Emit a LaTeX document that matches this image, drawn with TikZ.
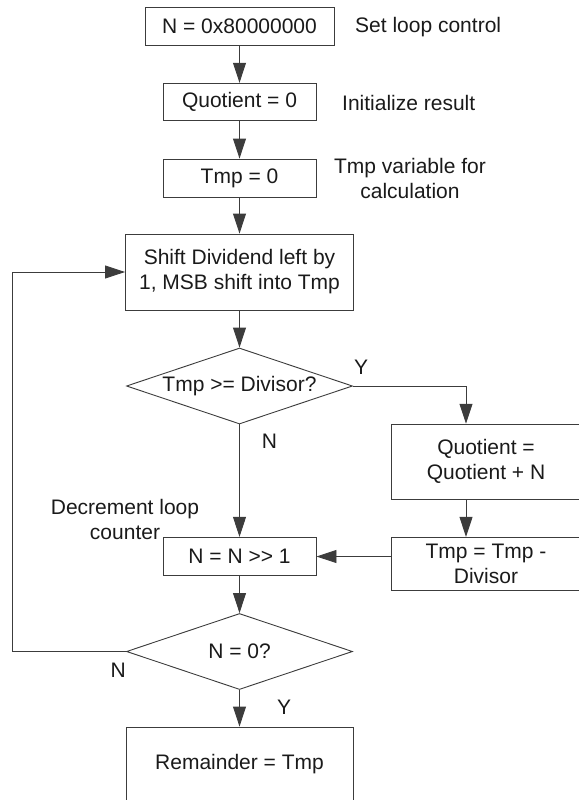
\documentclass[tikz,border=0pt]{standalone}
\usepackage{fontspec}
\setmainfont{Liberation Sans}
\usetikzlibrary{arrows.meta,shapes.geometric}
\definecolor{ln}{HTML}{3C3C3C}
\definecolor{txt}{HTML}{1A1A1A}
\begin{document}
\begin{tikzpicture}[x=1pt,y=-1pt,
  every node/.style={text=txt, font=\fontsize{21}{25}\selectfont},
  box/.style={draw=ln, line width=0.9pt, inner sep=0pt, align=center},
  dec/.style={diamond, draw=ln, line width=0.9pt, inner sep=0pt, aspect=2.97, minimum width=226pt, minimum height=76pt},
  lab/.style={inner sep=0pt, align=center},
  flow/.style={draw=ln, line width=0.9pt, -{Triangle[length=20pt,width=13pt]}},
]
\useasboundingbox (0,0) rectangle (578,800);
% main column
\node[box, minimum width=189pt, minimum height=38pt] (b1) at (239.5,26) {N = 0x80000000};
\node[box, minimum width=153pt, minimum height=37.5pt] (b2) at (239.5,102) {Quotient = 0};
\node[box, minimum width=153pt, minimum height=38pt] (b3) at (239.5,178) {Tmp = 0};
\node[box, minimum width=228pt, minimum height=76pt] (b4) at (239.5,272) {Shift Dividend left by\\1, MSB shift into Tmp};
\node[dec] (d1) at (239.5,386) {Tmp >= Divisor?};
\node[box, minimum width=190pt, minimum height=75pt] (b5) at (486,461.7) {Quotient =\\Quotient + N};
\node[box, minimum width=190pt, minimum height=53.4pt] (b6) at (486,564) {Tmp = Tmp -\\Divisor};
\node[box, minimum width=153pt, minimum height=38.4pt] (b7) at (239.5,556.5) {N = N >\kern0pt> 1};
\node[dec] (d2) at (239.5,651.5) {N = 0?};
\node[box, minimum width=227pt, minimum height=74pt] (b8) at (239.5,764) {Remainder = Tmp};
% labels
\node[lab, anchor=west] (l1) at (355,27) {Set loop control};
\node[lab, anchor=west] (l2) at (342,103) {Initialize result};
\node[lab] (l3) at (410,178) {Tmp variable for\\calculation};
\node[lab] (ly1) at (361,367) {Y};
\node[lab] (ln1) at (269.5,441) {N};
\node[lab] (l4) at (125,519.5) {Decrement loop\\counter};
\node[lab] (ln2) at (118.3,670) {N};
\node[lab] (ly2) at (284,707) {Y};
% connectors
\draw[flow] (b1) -- (b2);
\draw[flow] (b2) -- (b3);
\draw[flow] (b3) -- (b4);
\draw[flow] (b4) -- (d1);
\coordinate (cy) at (466,386);
\draw[flow] (d1.east) -- (cy) -- (cy |- b5.north);
\draw[flow] (cy |- b5.south) -- (cy |- b6.north);
\draw[flow] (b6.west |- b7.east) -- (b7.east);
\draw[flow] (d1.south) -- (b7.north);
\draw[flow] (b7) -- (d2);
\draw[flow] (d2) -- (b8);
\coordinate (cl) at (12.5,652);
\draw[flow] (d2.west) -- (d2.west -| cl) -- (cl |- b4.west) -- (b4.west);
\end{tikzpicture}
\end{document}
